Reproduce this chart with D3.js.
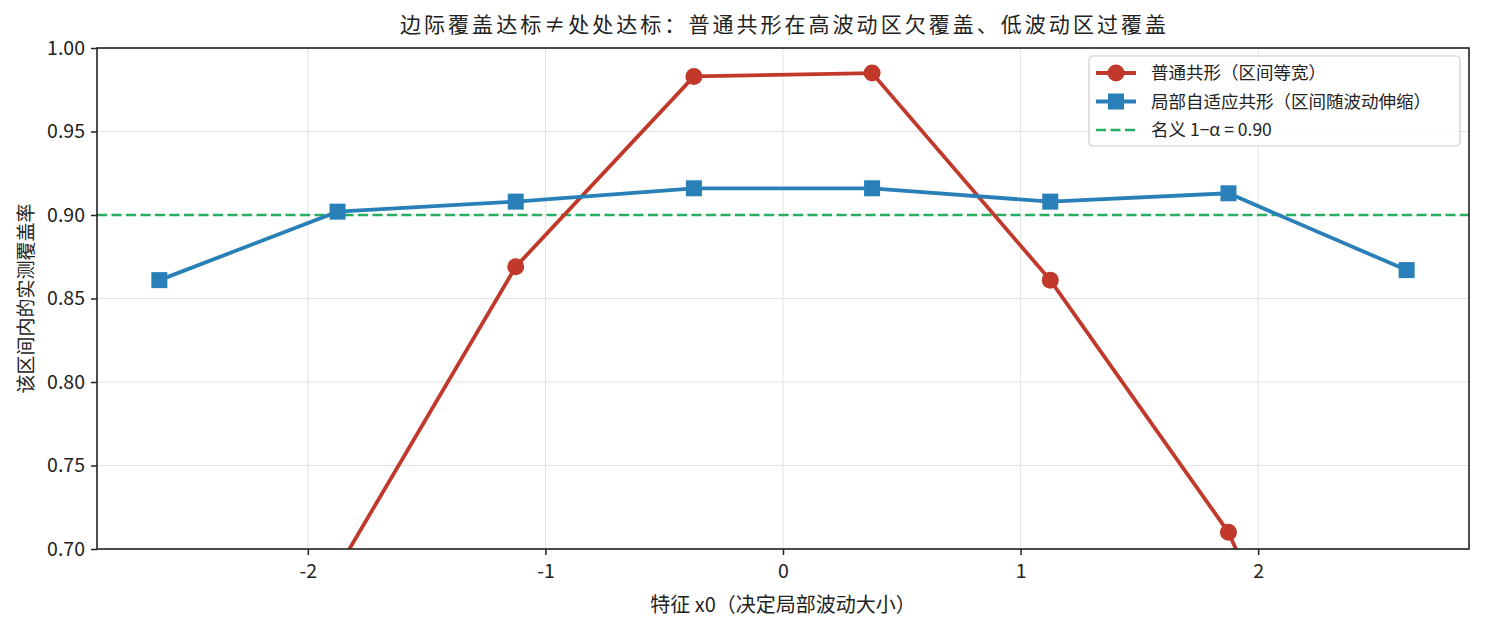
<!DOCTYPE html>
<html>
<head>
<meta charset="utf-8">
<script src="https://cdn.jsdelivr.net/npm/d3@7"></script>
<style>
  body { margin: 0; background: #fff; }
  text { font-family: "Noto Sans CJK SC", "Noto Sans", sans-serif; fill: #222; }
</style>
</head>
<body>
<div id="chart"></div>
<script>
// data
var xCenters = [-2.625, -1.875, -1.125, -0.375, 0.375, 1.125, 1.875, 2.625];
var plainCov = [0.45, 0.688, 0.869, 0.983, 0.985, 0.861, 0.710, 0.47];
var adaptiveCov = [0.861, 0.902, 0.908, 0.916, 0.916, 0.908, 0.913, 0.867];
var nominal = 0.90;
var xTicks = [-2, -1, 0, 1, 2];
var yTicks = [0.70, 0.75, 0.80, 0.85, 0.90, 0.95, 1.00];

var W = 1485, H = 630;
var margin = { top: 48, right: 16, bottom: 81, left: 97 },
    width = W - margin.left - margin.right,
    height = H - margin.top - margin.bottom;

var red = "#c0392b", blue = "#2980b9", green = "#27ae60";

var svg = d3.select("#chart").append("svg")
    .attr("width", W).attr("height", H);

var g = svg.append("g")
    .attr("transform", "translate(" + margin.left + "," + margin.top + ")");

var x = d3.scaleLinear().domain([-2.8875, 2.8875]).range([0, width]);
var y = d3.scaleLinear().domain([0.70, 1.00]).range([height, 0]);

g.append("clipPath").attr("id", "clip")
  .append("rect").attr("width", width).attr("height", height);

// grid
g.append("g").selectAll("line").data(xTicks).enter().append("line")
    .attr("x1", d => x(d)).attr("x2", d => x(d))
    .attr("y1", 0).attr("y2", height)
    .attr("stroke", "#e3e3e3").attr("stroke-width", 1);
g.append("g").selectAll("line").data(yTicks).enter().append("line")
    .attr("x1", 0).attr("x2", width)
    .attr("y1", d => y(d)).attr("y2", d => y(d))
    .attr("stroke", "#e3e3e3").attr("stroke-width", 1);

var plot = g.append("g").attr("clip-path", "url(#clip)");

// nominal line
plot.append("line")
    .attr("x1", 0).attr("x2", width)
    .attr("y1", y(nominal)).attr("y2", y(nominal))
    .attr("stroke", green).attr("stroke-width", 2.6)
    .attr("stroke-dasharray", "10,4.5");

var line = d3.line().x(d => x(d[0])).y(d => y(d[1]));

var plainData = xCenters.map((v, i) => [v, plainCov[i]]);
var adaptData = xCenters.map((v, i) => [v, adaptiveCov[i]]);

plot.append("path").datum(plainData)
    .attr("d", line).attr("fill", "none")
    .attr("stroke", red).attr("stroke-width", 3.8);
plot.selectAll(".pdot").data(plainData).enter().append("circle")
    .attr("class", "pdot")
    .attr("cx", d => x(d[0])).attr("cy", d => y(d[1]))
    .attr("r", 8.5).attr("fill", red);

plot.append("path").datum(adaptData)
    .attr("d", line).attr("fill", "none")
    .attr("stroke", blue).attr("stroke-width", 3.8);
plot.selectAll(".adot").data(adaptData).enter().append("rect")
    .attr("class", "adot")
    .attr("x", d => x(d[0]) - 8).attr("y", d => y(d[1]) - 8)
    .attr("width", 16).attr("height", 16).attr("fill", blue);

// axes
var xAxis = g.append("g")
    .attr("transform", "translate(0," + height + ")")
    .call(d3.axisBottom(x).tickValues(xTicks).tickFormat(d => String(d)).tickSizeOuter(0).tickSize(6).tickPadding(6));
var yAxis = g.append("g")
    .call(d3.axisLeft(y).tickValues(yTicks).tickFormat(d3.format(".2f")).tickSizeOuter(0).tickSize(6).tickPadding(6));
[xAxis, yAxis].forEach(function (a) {
  a.select(".domain").remove();
  a.selectAll("line").attr("stroke", "#222").attr("stroke-width", 1.5);
  a.selectAll("text").style("font-size", "19.5px").style("font-family", "'Noto Sans CJK SC'").attr("fill", "#222");
});
xAxis.selectAll("text").attr("dy", "0.85em");

g.append("rect").attr("width", width).attr("height", height)
    .attr("fill", "none").attr("stroke", "#222").attr("stroke-width", 1.6);

// titles
svg.append("text")
    .attr("x", margin.left + width / 2).attr("y", 32)
    .attr("text-anchor", "middle")
    .attr("textLength", 766).attr("lengthAdjust", "spacing")
    .style("font-size", "21px")
    .text("边际覆盖达标≠处处达标：普通共形在高波动区欠覆盖、低波动区过覆盖");

svg.append("text")
    .attr("x", margin.left + width / 2).attr("y", 612)
    .attr("text-anchor", "middle")
    .style("font-size", "20px")
    .text("特征 x0（决定局部波动大小）");

svg.append("text")
    .attr("transform", "translate(33," + (margin.top + height / 2) + ") rotate(-90)")
    .attr("text-anchor", "middle")
    .style("font-size", "19px")
    .text("该区间内的实测覆盖率");

// legend
var legend = svg.append("g").attr("transform", "translate(1089,56)");
legend.append("rect")
    .attr("width", 371).attr("height", 90).attr("rx", 4)
    .attr("fill", "#fff").attr("fill-opacity", 0.85)
    .attr("stroke", "#ccc").attr("stroke-width", 1.2);

var legendData = [
  { label: "普通共形（区间等宽）", color: red, kind: "circle" },
  { label: "局部自适应共形（区间随波动伸缩）", color: blue, kind: "square" },
  { label: "名义 1−α = 0.90", color: green, kind: "dash" }
];

var items = legend.selectAll(".item").data(legendData).enter().append("g")
    .attr("transform", (d, i) => "translate(0," + (17 + i * 28.5) + ")");
items.append("line")
    .attr("x1", 7).attr("x2", 47).attr("y1", 0).attr("y2", 0)
    .attr("stroke", d => d.color)
    .attr("stroke-width", d => d.kind === "dash" ? 2.6 : 3.8)
    .attr("stroke-dasharray", d => d.kind === "dash" ? "10,4.5" : null);
items.filter(d => d.kind === "circle").append("circle")
    .attr("cx", 27).attr("cy", 0).attr("r", 8.5).attr("fill", red);
items.filter(d => d.kind === "square").append("rect")
    .attr("x", 19).attr("y", -8).attr("width", 16).attr("height", 16).attr("fill", blue);
items.append("text")
    .attr("x", 62).attr("y", 0).attr("dy", "0.35em")
    .style("font-size", "17.5px")
    .text(d => d.label);
</script>
</body>
</html>
